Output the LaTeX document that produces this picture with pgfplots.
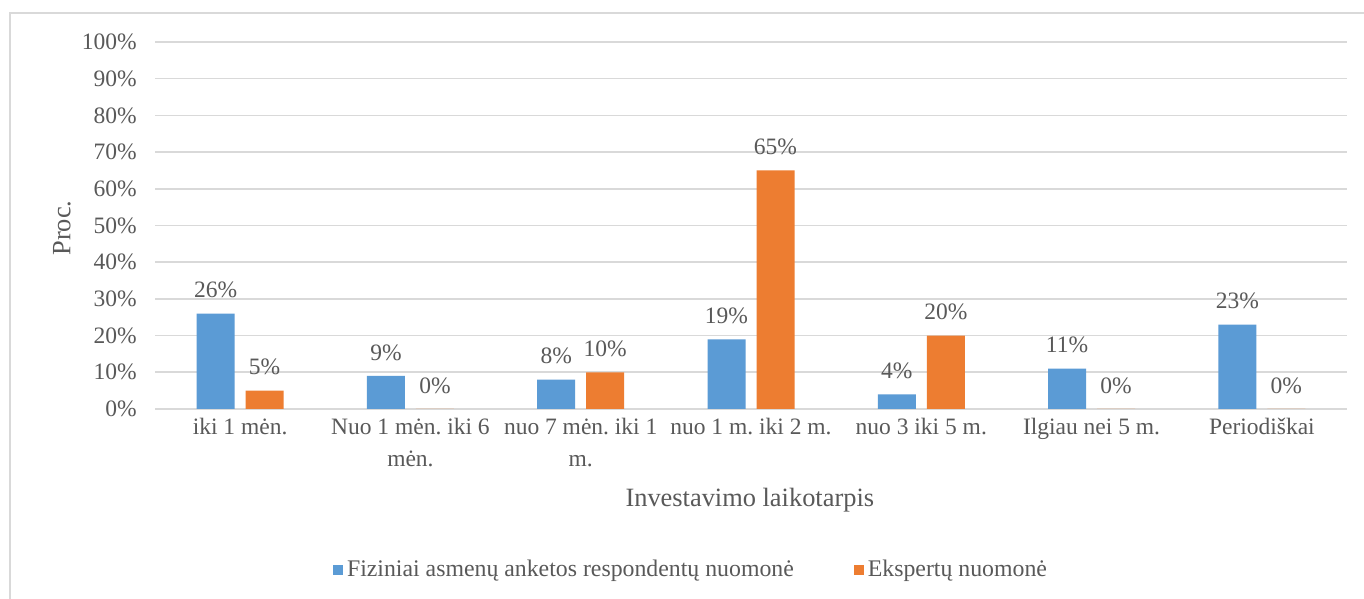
\documentclass[border=0pt]{standalone}
\usepackage{fontspec}
\setmainfont{Liberation Serif}
\usepackage{pgfplots}
\pgfplotsset{compat=1.18}
\frenchspacing

\definecolor{barblue}{HTML}{5B9BD5}
\definecolor{barorange}{HTML}{ED7D31}
\definecolor{txtgray}{HTML}{595959}
\definecolor{gridgray}{HTML}{D9D9D9}

\begin{document}
\begin{tikzpicture}
  % page frame: 1364 x 599 px at 0.5pt per px
  \useasboundingbox (0,0) rectangle (682pt,299.5pt);
  \fill[white] (0,0) rectangle (682pt,299.5pt);
  \draw[gridgray, line width=0.9pt] (5pt,-10pt) -- (5pt,293pt) -- (700pt,293pt);

  \begin{axis}[
    at={(77.5pt,95pt)}, anchor=south west,
    scale only axis,
    width=596pt, height=183.5pt,
    ybar=5.5pt, bar width=19pt,
    xmin=-0.5, xmax=6.5,
    ymin=0, ymax=100,
    xtick={0,...,6},
    xticklabels={
      {iki 1 mėn.},
      {Nuo 1 mėn. iki 6\\mėn.},
      {nuo 7 mėn. iki 1\\m.},
      {nuo 1 m. iki 2 m.},
      {nuo 3 iki 5 m.},
      {Ilgiau nei 5 m.},
      {Periodiškai}},
    ytick={0,10,...,100},
    yticklabels={0\%,10\%,20\%,30\%,40\%,50\%,60\%,70\%,80\%,90\%,100\%},
    major tick length=0pt,
    axis line style={draw=none},
    ymajorgrids,
    grid style={gridgray, line width=0.8pt},
    tick label style={font=\rmfamily\fontsize{11.75}{16}\selectfont, text=txtgray},
    xticklabel style={anchor=north, inner sep=0pt, yshift=-4.5pt, align=center},
    yticklabel style={anchor=east, inner sep=0pt, xshift=-9pt},
    xlabel={Investavimo laikotarpis},
    ylabel={Proc.},
    label style={font=\rmfamily\fontsize{13.2}{16}\selectfont, text=txtgray},
    xlabel style={at={(axis description cs:0.499,-0.248)}, anchor=center},
    ylabel style={at={(axis description cs:-0.078,0.493)}, anchor=center, rotate=0},
    nodes near coords={\pgfmathprintnumber[assume math mode=true]{\pgfplotspointmeta}\%},
    nodes near coords style={font=\rmfamily\fontsize{11.75}{16}\selectfont, text=txtgray,
      anchor=south, inner sep=0pt, yshift=7.5pt},
    legend columns=2,
    legend style={at={(0.4505,-0.439)}, anchor=center, draw=none, fill=none,
      font=\rmfamily\fontsize{11.9}{16}\selectfont, text=txtgray,
      /tikz/every even column/.append style={column sep=28pt}},
    legend image code/.code={\fill[#1] (0pt,-2.5pt) rectangle (5pt,2.5pt);},
  ]
    \addplot[fill=barblue, draw=none] coordinates
      {(0,26) (1,9) (2,8) (3,19) (4,4) (5,11) (6,23)};
    \addplot[fill=barorange, draw=none] coordinates
      {(0,5) (1,0) (2,10) (3,65) (4,20) (5,0) (6,0)};
    \legend{Fiziniai asmenų anketos respondentų nuomonė, Ekspertų nuomonė}
  \end{axis}
\end{tikzpicture}
\end{document}
